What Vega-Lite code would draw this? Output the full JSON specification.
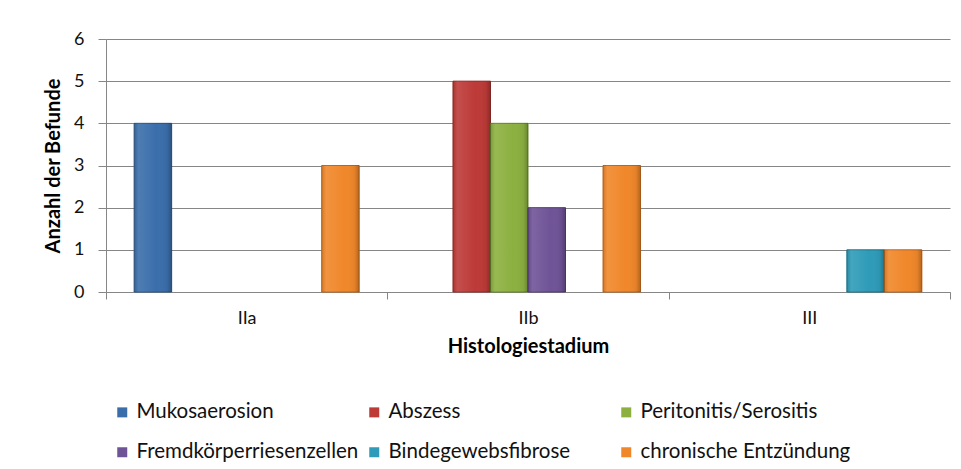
{
  "$schema": "https://vega.github.io/schema/vega-lite/v6.json",
  "autosize": "none",
  "width": 844,
  "height": 253,
  "padding": {"left": 106, "top": 39, "right": 11, "bottom": 177},
  "background": "#ffffff",
  "config": {
    "font": "Lato",
    "view": {"stroke": null},
    "axis": {"domainColor": "#868686", "tickColor": "#868686", "gridColor": "#868686", "labelColor": "#111111", "titleColor": "#000000"}
  },
  "data": {
    "values": [
      {"stadium": "IIa", "befund": "Mukosaerosion", "anzahl": 4},
      {"stadium": "IIa", "befund": "chronische Entzündung", "anzahl": 3},
      {"stadium": "IIb", "befund": "Abszess", "anzahl": 5},
      {"stadium": "IIb", "befund": "Peritonitis/Serositis", "anzahl": 4},
      {"stadium": "IIb", "befund": "Fremdkörperriesenzellen", "anzahl": 2},
      {"stadium": "IIb", "befund": "chronische Entzündung", "anzahl": 3},
      {"stadium": "III", "befund": "Bindegewebsfibrose", "anzahl": 1},
      {"stadium": "III", "befund": "chronische Entzündung", "anzahl": 1}
    ]
  },
  "encoding": {
    "x": {
      "field": "stadium", "type": "nominal", "sort": ["IIa", "IIb", "III"],
      "scale": {"paddingInner": 0, "paddingOuter": 0},
      "axis": {
        "title": "Histologiestadium", "titleFontSize": 20, "titleFontWeight": "bold", "titlePadding": 9,
        "labelAngle": 0, "labelFontSize": 18, "labelPadding": 10, "tickBand": "extent", "tickSize": 7,
        "domainWidth": 1, "grid": false
      }
    },
    "xOffset": {
      "field": "befund", "type": "nominal",
      "scale": {"domain": ["Mukosaerosion", "Abszess", "Peritonitis/Serositis", "Fremdkörperriesenzellen", "Bindegewebsfibrose", "chronische Entzündung"], "paddingInner": 0, "paddingOuter": 0.75}
    },
    "y": {
      "field": "anzahl", "type": "quantitative",
      "scale": {"domain": [0, 6], "nice": false},
      "axis": {
        "title": "Anzahl der Befunde", "titleFontSize": 20, "titleFontWeight": "bold", "titlePadding": 10,
        "values": [0, 1, 2, 3, 4, 5, 6], "labelFontSize": 18, "labelPadding": 14, "tickSize": 8,
        "grid": true, "gridWidth": 1, "domain": true
      }
    }
  },
  "layer": [
    {
      "mark": {"type": "bar", "strokeWidth": 1},
      "encoding": {
        "fill": {
          "field": "befund", "type": "nominal",
          "scale": {"domain": ["Mukosaerosion", "Abszess", "Peritonitis/Serositis", "Fremdkörperriesenzellen", "Bindegewebsfibrose", "chronische Entzündung"],
                    "range": ["#3a6eab", "#bd3a37", "#8cb040", "#6f5397", "#2e9bb8", "#f0872a"]},
          "legend": {
            "title": null, "orient": "none", "legendX": 6, "legendY": 363, "direction": "horizontal", "columns": 3,
            "gridAlign": "all", "columnPadding": 5, "rowPadding": 19, "labelFontSize": 20.5, "labelColor": "#111111",
            "symbolType": "square", "symbolSize": 100, "symbolStrokeWidth": 0, "labelOffset": 4, "labelLimit": 400
          }
        },
        "stroke": {
          "field": "befund", "type": "nominal",
          "scale": {"domain": ["Mukosaerosion", "Abszess", "Peritonitis/Serositis", "Fremdkörperriesenzellen", "Bindegewebsfibrose", "chronische Entzündung"],
                    "range": ["#2a5282", "#8e2a28", "#66832c", "#513d70", "#1f7189", "#b9651c"]},
          "legend": null
        }
      }
    },
    {
      "mark": {
        "type": "bar",
        "fill": {
          "gradient": "linear", "x1": 0, "y1": 0, "x2": 1, "y2": 0,
          "stops": [
            {"offset": 0, "color": "rgba(0,0,0,0.12)"},
            {"offset": 0.12, "color": "rgba(255,255,255,0.10)"},
            {"offset": 0.6, "color": "rgba(255,255,255,0)"},
            {"offset": 0.88, "color": "rgba(0,0,0,0.05)"},
            {"offset": 1, "color": "rgba(0,0,0,0.25)"}
          ]
        }
      },
      "encoding": {}
    }
  ]
}
